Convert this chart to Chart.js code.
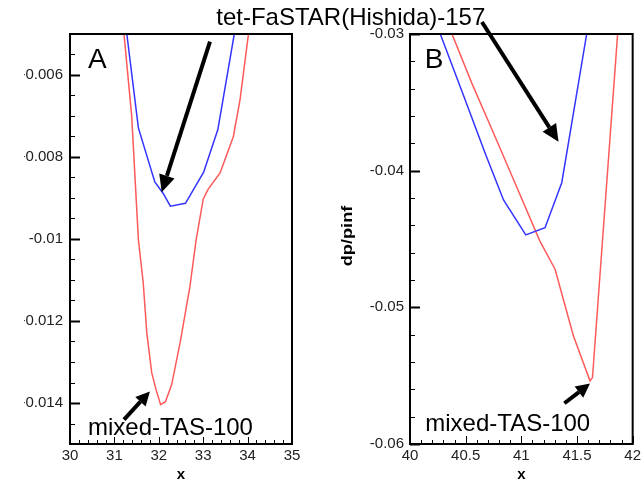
<!DOCTYPE html>
<html>
<head>
<meta charset="utf-8">
<script src="https://cdn.jsdelivr.net/npm/chart.js@4.4.1/dist/chart.umd.min.js"></script>
<style>
  html, body { margin: 0; padding: 0; background: #fff; overflow: hidden; }
  #wrap { position: relative; width: 644px; height: 482px; overflow: hidden; background: #fff; }
  #cA { position: absolute; left: 24px; top: 0; }
  #cB { position: absolute; left: 0; top: 0; }
</style>
</head>
<body>
<div id="wrap">
  <canvas id="cA" width="620" height="482"></canvas>
  <canvas id="cB" width="644" height="482"></canvas>
</div>
<script>
// Panel A: pressure signature dip near x = 32
const xA_fastar = [31.28, 31.54, 31.91, 32.10, 32.26, 32.60, 33.01, 33.33, 33.70];
const yA_fastar = [-0.0050, -0.00729, -0.00861, -0.00889, -0.00920, -0.00913, -0.00837, -0.00733, -0.0050];
const xA_tas = [31.216, 31.39, 31.54, 31.65, 31.73, 31.84, 31.94, 32.04, 32.15, 32.29, 32.48, 32.70, 32.84, 33.00, 33.11, 33.38, 33.68, 33.83, 34.02];
const yA_tas = [-0.0050, -0.00701, -0.01001, -0.01108, -0.01229, -0.01326, -0.01368, -0.01404, -0.01397, -0.01355, -0.01253, -0.01117, -0.01003, -0.00903, -0.00879, -0.00839, -0.0075, -0.0066, -0.0050];

// Panel B: pressure signature dip near x = 41.5
const xB_fastar = [40.272, 40.496, 40.675, 40.840, 41.040, 41.213, 41.363, 41.438, 41.587];
const yB_fastar = [-0.0300, -0.03483, -0.03873, -0.04214, -0.04470, -0.04417, -0.04088, -0.03726, -0.0300];
const xB_tas = [40.377, 40.556, 40.751, 40.944, 41.166, 41.303, 41.468, 41.617, 41.639, 41.865];
const yB_tas = [-0.0300, -0.03361, -0.03726, -0.04092, -0.04514, -0.04721, -0.05209, -0.05538, -0.05514, -0.0300];

// Tick values and labels
const xTicksA = [30, 31, 32, 33, 34, 35];
const xLabelsA = ['30', '31', '32', '33', '34', '35'];
const yTicksA = [-0.014, -0.012, -0.01, -0.008, -0.006];
const yLabelsA = ['-0.014', '-0.012', '-0.01', '-0.008', '-0.006'];
const xTicksB = [40, 40.5, 41, 41.5, 42];
const xLabelsB = ['40', '40.5', '41', '41.5', '42'];
const yTicksB = [-0.06, -0.05, -0.04, -0.03];
const yLabelsB = ['-0.06', '-0.05', '-0.04', '-0.03'];

const nameFastar = 'tet-FaSTAR(Hishida)-157';
const nameTas = 'mixed-TAS-100';
const yTitleB = 'dp/pinf';

const FONT = '"Liberation Sans", Arial, Helvetica, sans-serif';
Chart.defaults.font.family = FONT;

const BLUE = '#3434ff';
const RED = '#ff5a5a';

function pts(xs, ys) { return xs.map((x, i) => ({ x: x, y: ys[i] })); }

function labelFor(ticks, labels) {
  return function (value) {
    const i = ticks.findIndex(t => Math.abs(t - value) < 1e-9);
    return i >= 0 ? labels[i] : '';
  };
}

function drawArrow(ctx, x1, y1, x2, y2, lw, headLen, headHalf) {
  const ang = Math.atan2(y2 - y1, x2 - x1);
  const bx = x2 - headLen * Math.cos(ang);
  const by = y2 - headLen * Math.sin(ang);
  ctx.lineWidth = lw;
  ctx.lineCap = 'butt';
  ctx.beginPath();
  ctx.moveTo(x1, y1);
  ctx.lineTo(bx, by);
  ctx.stroke();
  ctx.beginPath();
  ctx.moveTo(x2, y2);
  ctx.lineTo(bx + headHalf * Math.sin(ang), by - headHalf * Math.cos(ang));
  ctx.lineTo(bx - headHalf * Math.sin(ang), by + headHalf * Math.cos(ang));
  ctx.closePath();
  ctx.fill();
}

// Frame, inward tick marks, callouts and the stretched vertical axis title
const framePlugin = {
  id: 'frameTicks',
  afterDraw(chart, args, opts) {
    const { ctx, chartArea: a } = chart;
    const x = chart.scales.x, y = chart.scales.y;
    ctx.save();
    ctx.strokeStyle = '#000';
    ctx.fillStyle = '#000';
    ctx.lineWidth = 1;
    const nx = Math.round((x.max - x.min) / opts.xMinor);
    for (let i = 0; i <= nx; i++) {
      const v = x.min + i * opts.xMinor;
      const major = opts.xMajor.some(m => Math.abs(m - v) < 1e-9);
      const len = major ? opts.xMajorLen : opts.xMinorLen;
      const px = Math.round(x.getPixelForValue(v)) + 0.5;
      ctx.beginPath();
      ctx.moveTo(px, a.bottom);
      ctx.lineTo(px, a.bottom - len);
      ctx.stroke();
    }
    const ny = Math.round((y.max - y.min) / opts.yMinor);
    for (let i = 0; i <= ny; i++) {
      const v = y.min + i * opts.yMinor;
      const major = opts.yMajor.some(m => Math.abs(m - v) < 1e-9);
      const len = major ? opts.yMajorLen : opts.yMinorLen;
      const py = Math.round(y.getPixelForValue(v)) + 0.5;
      ctx.lineWidth = major ? 2 : 1;
      ctx.beginPath();
      ctx.moveTo(a.left, py);
      ctx.lineTo(a.left + len, py);
      ctx.stroke();
    }
    ctx.lineWidth = 2;
    ctx.strokeRect(a.left, a.top, a.right - a.left, a.bottom - a.top);

    for (const it of opts.items) {
      if (it.kind === 'arrow') {
        drawArrow(ctx,
          x.getPixelForValue(it.fx), y.getPixelForValue(it.fy),
          x.getPixelForValue(it.tx), y.getPixelForValue(it.ty),
          it.lw, it.head, it.half);
      } else if (it.kind === 'vtitle') {
        ctx.save();
        ctx.font = 'bold ' + it.size + 'px ' + FONT;
        ctx.textAlign = 'center';
        ctx.textBaseline = 'middle';
        ctx.translate(a.left - it.gap, (a.top + a.bottom) / 2 - 3);
        ctx.rotate(-Math.PI / 2);
        ctx.scale(it.stretch, 1);
        ctx.fillText(it.text, 0, 0);
        ctx.restore();
      } else {
        ctx.font = it.size + 'px ' + FONT;
        ctx.textAlign = 'left';
        ctx.textBaseline = 'alphabetic';
        ctx.fillText(it.text, x.getPixelForValue(it.x), y.getPixelForValue(it.y));
      }
    }
    ctx.restore();
  }
};

function makeChart(id, cfg) {
  return new Chart(document.getElementById(id), {
    type: 'line',
    data: {
      datasets: [
        { data: pts(cfg.xs1, cfg.ys1), borderColor: BLUE, borderWidth: 1.5, pointRadius: 0, tension: 0, fill: false },
        { data: pts(cfg.xs2, cfg.ys2), borderColor: RED, borderWidth: 1.5, pointRadius: 0, tension: 0, fill: false }
      ]
    },
    options: {
      responsive: false,
      animation: false,
      events: [],
      layout: { padding: cfg.padding },
      plugins: {
        legend: { display: false },
        tooltip: { enabled: false },
        frameTicks: cfg.frame
      },
      scales: {
        x: {
          type: 'linear',
          min: cfg.xmin, max: cfg.xmax,
          afterBuildTicks: s => { s.ticks = cfg.xTicks.map(v => ({ value: v })); },
          afterFit: s => { s.height = 38; },
          ticks: { callback: labelFor(cfg.xTicks, cfg.xLabels), color: '#222', font: { size: 15 }, padding: 3, maxRotation: 0, autoSkip: false },
          grid: { display: false, drawTicks: false },
          border: { display: false },
          title: { display: true, text: 'x', color: '#000', font: { size: 15, weight: 'bold', lineHeight: 1 }, padding: { top: 0, bottom: 0 } }
        },
        y: {
          type: 'linear',
          min: cfg.ymin, max: cfg.ymax,
          afterBuildTicks: s => { s.ticks = cfg.yTicks.map(v => ({ value: v })); },
          afterFit: s => { s.width = cfg.yWidth; },
          ticks: { callback: labelFor(cfg.yTicks, cfg.yLabels), color: '#222', font: { size: 15 }, padding: cfg.yPad, autoSkip: false },
          grid: { display: false, drawTicks: false },
          border: { display: false },
          title: { display: false }
        }
      }
    },
    plugins: [framePlugin]
  });
}

makeChart('cA', {
  xs1: xA_fastar, ys1: yA_fastar, xs2: xA_tas, ys2: yA_tas,
  xmin: 30, xmax: 35, ymin: -0.015, ymax: -0.005,
  xTicks: xTicksA, xLabels: xLabelsA, yTicks: yTicksA, yLabels: yLabelsA,
  padding: { left: 0, right: 352, top: 34, bottom: 0 },
  yWidth: 46, yPad: 7,
  frame: {
    xMinor: 0.2, xMajor: xTicksA, xMajorLen: 7, xMinorLen: 4,
    yMinor: 0.0005, yMajor: yTicksA, yMajorLen: 10, yMinorLen: 5,
    items: [
      { kind: 'text', text: 'A', size: 28, x: 30.405, y: -0.005826 },
      { kind: 'arrow', fx: 33.153, fy: -0.005187, tx: 32.065, ty: -0.008857, lw: 4, head: 17, half: 8 },
      { kind: 'arrow', fx: 31.216, fy: -0.014405, tx: 31.80, ty: -0.013717, lw: 4, head: 14, half: 7 },
      { kind: 'text', text: nameTas, size: 24, x: 30.405, y: -0.01477 }
    ]
  }
});

makeChart('cB', {
  xs1: xB_fastar, ys1: yB_fastar, xs2: xB_tas, ys2: yB_tas,
  xmin: 40, xmax: 42, ymin: -0.06, ymax: -0.03,
  xTicks: xTicksB, xLabels: xLabelsB, yTicks: yTicksB, yLabels: yLabelsB,
  padding: { left: 340, right: 11, top: 34, bottom: 0 },
  yWidth: 70, yPad: 6,
  frame: {
    xMinor: 0.1, xMajor: xTicksB, xMajorLen: 8, xMinorLen: 4,
    yMinor: 0.002, yMajor: yTicksB, yMajorLen: 10, yMinorLen: 5,
    items: [
      { kind: 'text', text: 'B', size: 28, x: 40.132, y: -0.03249 },
      { kind: 'text', text: nameFastar, size: 24, x: 38.26, y: -0.029342 },
      { kind: 'arrow', fx: 40.646, fy: -0.02912, tx: 41.334, ty: -0.03788, lw: 4, head: 17, half: 8 },
      { kind: 'arrow', fx: 41.387, fy: -0.05702, tx: 41.617, ty: -0.05558, lw: 4, head: 14, half: 7 },
      { kind: 'text', text: nameTas, size: 24, x: 40.137, y: -0.05904 },
      { kind: 'vtitle', text: yTitleB, size: 14, stretch: 1.3, gap: 62 }
    ]
  }
});
</script>
</body>
</html>
